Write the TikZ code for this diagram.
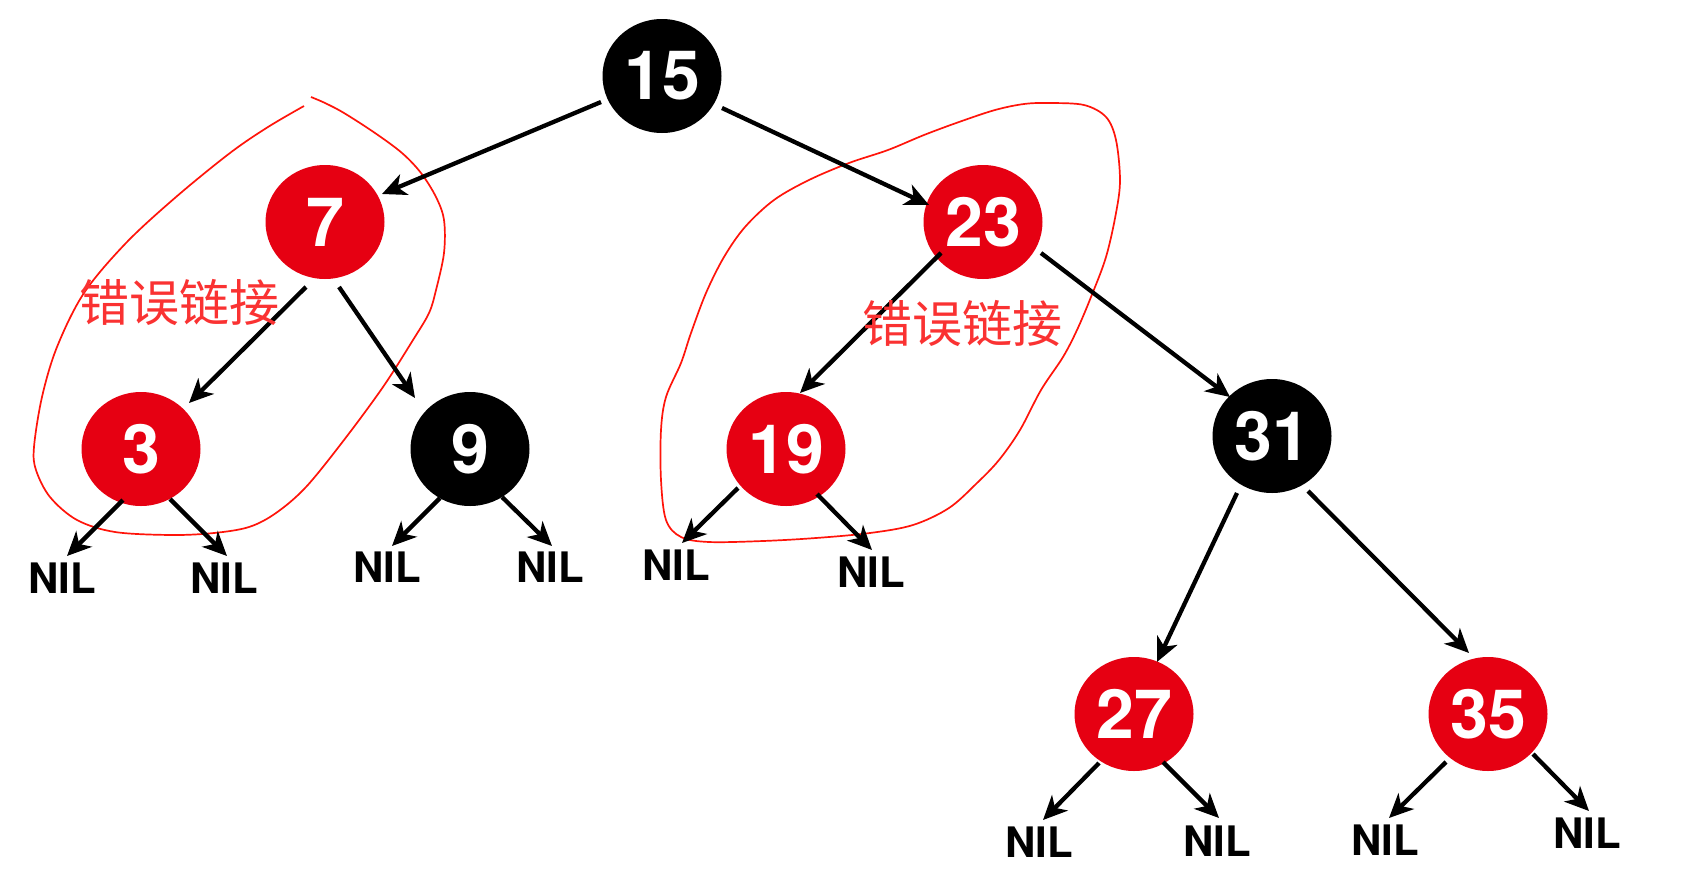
\documentclass[tikz,border=0pt]{standalone}
\usepackage{fontspec}
\setmainfont{TeX Gyre Heros}
\newfontfamily\cjk{Noto Sans CJK SC}
\usetikzlibrary{shapes.geometric,arrows.meta,calc}
\definecolor{rbred}{RGB}{230,0,18}
\definecolor{notered}{RGB}{250,50,50}
\definecolor{loopred}{RGB}{255,20,10}
\begin{document}
\begin{tikzpicture}[x=1pt,y=-1pt,
  rbnode/.style={ellipse, minimum width=119pt, minimum height=114pt, inner sep=0pt, text=white, font=\bfseries\fontsize{68}{68}\selectfont},
  rednode/.style={rbnode, fill=rbred},
  blacknode/.style={rbnode, fill=black},
  nil/.style={font=\bfseries\fontsize{42}{42}\selectfont, inner sep=0pt},
  arr/.style={line width=4.3pt, -{Stealth[length=24pt,width=22pt,inset=7pt]}},
  loopline/.style={draw=loopred, line width=1.7pt},
  note/.style={text=notered, font=\cjk\fontsize{50}{50}\selectfont, inner sep=0pt}]
\useasboundingbox (0,0) rectangle (1684,886);
\fill[white] (0,0) rectangle (1684,886);

% hand-drawn outlines
\draw[loopline] plot[smooth, tension=0.55] coordinates {(304,106) (268,127) (230,153) (176,197) (126,243) (84,293) (57,347) (42,397) (34,447) (36,470) (50,497) (77,520) (115,532) (172,535) (214,533) (249,527) (276,513) (306,487) (344,440) (383,387) (413,340) (429,313) (436,290) (444,253) (444,220) (436,197) (421,173) (402,153) (375,133) (344,113) (325,103) (311,97)};
\draw[loopline] plot[smooth cycle, tension=0.55] coordinates {(1049,103) (1084,105) (1106,117) (1116,140) (1120,180) (1116,213) (1106,257) (1091,297) (1077,330) (1063,357) (1041,390) (1020,430) (999,460) (977,483) (949,508) (913,525) (870,533) (816,538) (763,541) (709,542) (681,537) (666,520) (661,480) (661,430) (666,397) (681,363) (691,333) (706,293) (724,257) (745,227) (774,200) (809,180) (849,163) (888,150) (924,135) (959,122) (995,110) (1024,104)};

% nodes
\node[blacknode] (n15) at (662,76) {15};
\node[rednode] (n7) at (325,222) {7};
\node[rednode] (n23) at (983,222) {23};
\node[rednode] (n3) at (141,449) {3};
\node[blacknode] (n9) at (470,449) {9};
\node[rednode] (n19) at (786,449) {19};
\node[blacknode] (n31) at (1272,436) {31};
\node[rednode] (n27) at (1134,714) {27};
\node[rednode] (n35) at (1488,714) {35};

\node[nil] (nilA) at (62,578) {NIL};
\node[nil] (nilB) at (224,578) {NIL};
\node[nil] (nilC) at (387,567) {NIL};
\node[nil] (nilD) at (550,567) {NIL};
\node[nil] (nilE) at (676,565) {NIL};
\node[nil] (nilF) at (871,572) {NIL};
\node[nil] (nilG) at (1039,842) {NIL};
\node[nil] (nilH) at (1217,841) {NIL};
\node[nil] (nilI) at (1385,840) {NIL};
\node[nil] (nilJ) at (1587,833) {NIL};

% tree edges
\draw[arr] ($(n15)+(-61,26)$) -- ($(n7)+(57,-28)$);
\draw[arr] ($(n15)+(60,32)$) -- ($(n23)+(-54,-17)$);
\draw[arr] ($(n7)+(-19,65)$) -- ($(n3)+(48,-46)$);
\draw[arr] ($(n7)+(14,65)$) -- ($(n9)+(-55,-51)$);
\draw[arr] ($(n23)+(-42,31)$) -- ($(n19)+(14,-56)$);
\draw[arr] ($(n23)+(58,31)$) -- ($(n31)+(-42,-39)$);
\draw[arr] ($(n31)+(-35,57)$) -- ($(n27)+(23,-52)$);
\draw[arr] ($(n31)+(36,55)$) -- ($(n35)+(-19,-61)$);

% NIL edges
\draw[arr] ($(n3)+(-18,51)$) -- ($(nilA)+(5,-22)$);
\draw[arr] ($(n3)+(29,50)$) -- ($(nilB)+(3,-22)$);
\draw[arr] ($(n9)+(-30,49)$) -- ($(nilC)+(5,-21)$);
\draw[arr] ($(n9)+(32,48)$) -- ($(nilD)+(2,-21)$);
\draw[arr] ($(n19)+(-48,39)$) -- ($(nilE)+(6,-22)$);
\draw[arr] ($(n19)+(31,45)$) -- ($(nilF)+(1,-22)$);
\draw[arr] ($(n27)+(-35,49)$) -- ($(nilG)+(4,-22)$);
\draw[arr] ($(n27)+(29,48)$) -- ($(nilH)+(2,-23)$);
\draw[arr] ($(n35)+(-42,48)$) -- ($(nilI)+(4,-22)$);
\draw[arr] ($(n35)+(45,40)$) -- ($(nilJ)+(2,-22)$);

% notes
\node[note] (noteL) at (179,302) {错误链接};
\node[note] (noteR) at (962,323) {错误链接};
\end{tikzpicture}
\end{document}
